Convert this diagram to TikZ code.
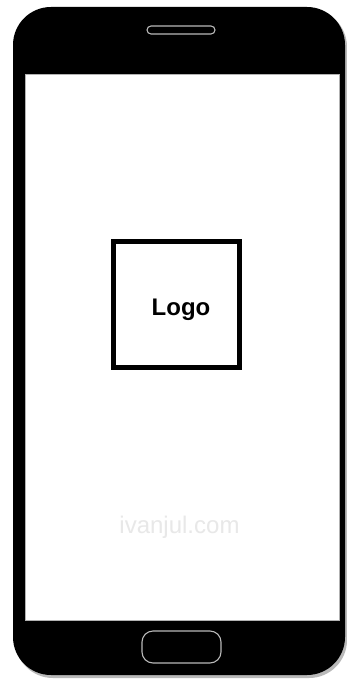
\documentclass[tikz,border=0pt]{standalone}
\usepackage{fontspec}
\setmainfont{Liberation Sans}
\begin{document}
\begin{tikzpicture}[x=1pt,y=-1pt,
  bezel/.style={fill=black,rounded corners=38pt},
  trim/.style={draw=gray!55,line width=1.1pt,fill=black},
  logobox/.style={draw=black,line width=5pt,fill=white,minimum width=126pt,minimum height=126pt,inner sep=0pt},
  logotext/.style={font=\bfseries\fontsize{24}{28}\selectfont,anchor=base,inner sep=0pt},
  watermark/.style={text=black!9,font=\fontsize{24}{28}\selectfont,anchor=base,inner sep=0pt}]
\useasboundingbox (0,0) rectangle (346,679);
\fill[white] (0,0) rectangle (346,679);
% shadow
\fill[gray!55,rounded corners=38pt] (15,9) rectangle (347,678);
% body
\fill[bezel] (13,7) rectangle (345,675);
% screen
\fill[white,draw=gray!60,line width=0.6pt] (25.5,74) rectangle (339,620);
% speaker
\draw[trim,rounded corners=4pt] (147,26) rectangle (215,34);
% home button
\draw[trim,rounded corners=11pt] (142,631) rectangle (221,663);
% logo
\node[logobox] (box) at (176.5,304.5) {};
\node[logotext] (logo) at (181,315) {Logo};
% watermark
\node[watermark] (wm) at (179.5,533) {ivanjul.com};
\end{tikzpicture}
\end{document}
